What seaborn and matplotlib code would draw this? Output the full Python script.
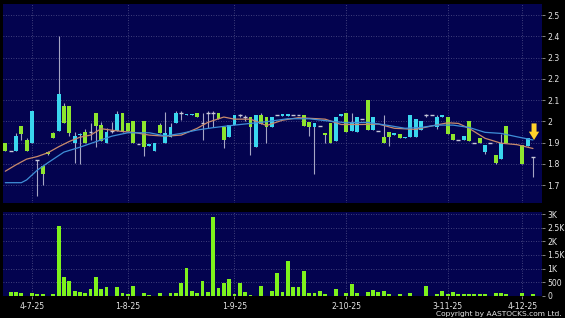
import numpy as np
import matplotlib
matplotlib.use("Agg")
import matplotlib.pyplot as plt
import seaborn as sns

nan = np.nan

# ---------------- data ----------------
opens = [1.90, 1.86, 1.86, 1.98, 1.91, 1.90, 1.82, 1.79, 1.856, 1.944,
         1.956, 2.073, 2.072, 1.90, 1.936, 1.95, 1.95, 2.04, 1.983, 1.90,
         1.955, 1.956, 2.04, 1.994, 2.00, 1.895, 2.00, 1.886, 1.86, 1.982,
         1.90, 1.925, 1.99, 2.037, 2.03, 2.03, 2.04, 1.993, 2.04, 2.04,
         2.04, 1.972, 1.924, 1.982, 2.029, 2.02, 2.021, 1.88, 2.029, 2.021,
         1.971, 2.029, 2.026, 2.026, 2.029, 2.029, 2.029, 1.998, 1.971, 1.98,
         1.947, 1.994, 1.908, 2.026, 2.04, 1.952, 1.948, 2.01, 2.10, 1.96,
         1.956, 1.928, 1.948, 1.937, 1.94, 1.922, 1.925, 1.925, 1.96, 2.03,
         2.03, 1.975, 2.022, 2.022, 1.94, 1.91, 1.91, 2.00, 1.897, 1.92,
         1.855, 1.897, 1.84, 1.822, 1.98, nan, nan, 1.89, 1.884, 1.83]
highs = [1.90, 1.86, 1.947, 1.98, 1.92, 2.05, 1.82, 1.79, 1.86, 1.95,
         2.40, 2.084, 2.072, 1.95, 1.945, 1.963, 1.99, 2.04, 1.995, 1.97,
         1.998, 2.047, 2.04, 1.994, 2.00, 1.895, 2.00, 1.892, 1.90, 1.99,
         2.042, 1.99, 2.05, 2.05, 2.036, 2.036, 2.04, 2.037, 2.05, 2.05,
         2.04, 1.972, 1.982, 2.03, 2.035, 2.03, 2.021, 2.029, 2.04, 2.021,
         2.021, 2.029, 2.032, 2.032, 2.029, 2.029, 2.029, 1.998, 1.99, 1.98,
         1.947, 1.994, 2.021, 2.032, 2.04, 2.04, 2.022, 2.01, 2.10, 2.022,
         1.956, 2.03, 1.948, 1.943, 1.94, 1.928, 2.03, 2.01, 2.00, 2.035,
         2.03, 2.03, 2.028, 2.022, 1.94, 1.91, 1.93, 2.00, 1.897, 1.92,
         1.89, 1.897, 1.84, 1.94, 1.98, nan, nan, 1.89, 1.92, 1.83]
lows = [1.86, 1.86, 1.86, 1.913, 1.86, 1.90, 1.65, 1.70, 1.84, 1.92,
        1.956, 1.994, 1.93, 1.805, 1.80, 1.90, 1.91, 1.88, 1.905, 1.90,
        1.944, 1.956, 1.95, 1.952, 1.90, 1.895, 1.835, 1.886, 1.86, 1.944,
        1.90, 1.925, 1.99, 2.006, 2.03, 2.03, 2.019, 1.91, 1.97, 1.975,
        2.009, 1.872, 1.924, 1.982, 2.02, 2.00, 1.841, 1.88, 1.986, 1.90,
        1.971, 2.029, 2.026, 2.026, 2.029, 2.029, 1.98, 1.93, 1.752, 1.98,
        1.90, 1.90, 1.908, 2.026, 1.95, 1.952, 1.948, 2.01, 1.96, 1.96,
        1.956, 1.90, 1.884, 1.937, 1.92, 1.922, 1.925, 1.925, 1.96, 2.02,
        2.03, 1.965, 2.022, 1.94, 1.91, 1.91, 1.91, 1.906, 1.897, 1.90,
        1.847, 1.897, 1.80, 1.822, 1.897, nan, nan, 1.80, 1.884, 1.74]
closes = [1.86, 1.86, 1.93, 1.94, 1.86, 2.05, 1.82, 1.75, 1.845, 1.92,
          2.13, 1.994, 1.945, 1.93, 1.94, 1.90, 1.95, 1.978, 1.905, 1.95,
          1.955, 2.034, 1.95, 1.952, 1.90, 1.895, 1.88, 1.892, 1.90, 1.944,
          1.947, 1.972, 2.04, 2.037, 2.036, 2.036, 2.019, 1.993, 2.04, 2.04,
          2.009, 1.912, 1.982, 2.03, 2.029, 2.02, 1.971, 2.029, 1.986, 1.971,
          2.021, 2.029, 2.032, 2.032, 2.029, 2.029, 1.98, 1.971, 1.99, 1.98,
          1.937, 1.90, 2.021, 2.032, 1.95, 1.994, 2.022, 2.01, 1.96, 2.022,
          1.956, 1.90, 1.928, 1.943, 1.92, 1.928, 2.03, 2.01, 2.00, 2.03,
          2.03, 2.022, 2.028, 1.94, 1.91, 1.91, 1.93, 1.906, 1.897, 1.90,
          1.89, 1.897, 1.806, 1.897, 1.897, nan, nan, 1.80, 1.92, 1.83]
volumes = [0, 123, 147, 98, 0, 98, 49, 49, 0, 61,
           2552, 687, 552, 184, 147, 110, 233, 700, 233, 331,
           0, 331, 86, 49, 344, 0, 86, 37, 0, 86,
           0, 110, 86, 479, 1031, 184, 86, 540, 123, 2908,
           282, 466, 601, 49, 466, 123, 37, 0, 368, 0,
           172, 847, 123, 1276, 319, 319, 908, 98, 98, 172,
           74, 0, 233, 0, 98, 417, 98, 0, 135, 209,
           123, 184, 74, 0, 61, 0, 98, 0, 0, 356,
           0, 74, 160, 61, 123, 49, 49, 49, 49, 49,
           74, 0, 98, 110, 61, 0, 0, 86, 0, 61]

ma_short_idx = [0, 2, 4, 6, 8, 10, 12, 14, 16, 18, 20, 22, 24, 27, 30, 33, 36, 38,
                41, 43, 46, 49, 52, 55, 60, 63, 67, 70, 73, 77, 80, 83, 85, 87,
                90, 93, 96, 99]
ma_short_val = [1.765, 1.795, 1.822, 1.834, 1.852, 1.88, 1.905, 1.925, 1.935, 1.965,
                1.958, 1.952, 1.948, 1.935, 1.930, 1.935, 1.967, 1.995, 2.02, 2.01,
                2.01, 1.98, 2.005, 2.017, 2.01, 1.985, 1.985, 1.987, 1.967, 1.962,
                1.978, 1.993, 1.99, 1.967, 1.92, 1.897, 1.89, 1.872]
ma_long_idx = [0, 3, 4, 6, 8, 11, 14, 17, 20, 23, 27, 30, 33, 36, 39, 43, 46, 49,
               53, 57, 60, 64, 68, 72, 75, 78, 81, 84, 87, 90, 93, 96, 99]
ma_long_val = [1.711, 1.711, 1.724, 1.77, 1.805, 1.855, 1.878, 1.904, 1.93, 1.946,
               1.946, 1.931, 1.943, 1.959, 1.97, 1.982, 1.99, 1.998, 2.012, 2.012,
               2.003, 1.993, 1.995, 1.98, 1.967, 1.971, 1.982, 1.982, 1.971, 1.948,
               1.943, 1.927, 1.912]

date_tick_idx = [5, 23, 43, 64, 83, 97]
date_labels = ["4-7-25", "1-8-25", "1-9-25", "2-10-25", "3-11-25", "4-12-25"]
price_ticks = [1.7, 1.8, 1.9, 2.0, 2.1, 2.2, 2.3, 2.4, 2.5]
price_tick_labels = ["1.7", "1.8", "1.9", "2", "2.1", "2.2", "2.3", "2.4", "2.5"]
vol_ticks = [0, 500, 1000, 1500, 2000, 2500, 3000]
vol_tick_labels = ["0", "500", "1K", "1.5K", "2K", "2.5K", "3K"]
last_index = 99

# ---------------- style ----------------
sns.set_theme(style="dark")
plt.rcParams["font.family"] = ["DejaVu Sans"]

PANEL = "#03034f"
GRID = "#54548a"
CYAN = "#3ad6ee"
GREEN = "#8ee62e"
VOLG = "#7ef21c"
WICK = "#a6a6c4"
TXT = "#e6e6e6"

W, H = 565, 318
fig = plt.figure(figsize=(W / 100, H / 100), dpi=100, facecolor="black")
left, right = 3 / W, 541.5 / W
ax = fig.add_axes([left, 1 - 203.3 / H, right - left, (203.3 - 4) / H])
axv = fig.add_axes([left, 1 - 295.7 / H, right - left, (295.7 - 212) / H])

for a in (ax, axv):
    a.set_facecolor(PANEL)
    for s in a.spines.values():
        s.set_visible(False)

x = np.arange(len(opens))
o = np.array(opens); h = np.array(highs); l = np.array(lows); c = np.array(closes)
valid = ~np.isnan(o)

# wicks
wm = valid & (h > l)
ax.vlines(x[wm], l[wm], h[wm], color=WICK, lw=0.8, zorder=2)
# bodies
up = valid & (c > o)
dn = valid & (c < o)
eq = valid & (c == o)
ax.bar(x[up], (c - o)[up], bottom=o[up], width=0.72, color=CYAN, lw=0, zorder=3)
ax.bar(x[dn], (o - c)[dn], bottom=c[dn], width=0.72, color=GREEN, lw=0, zorder=3)
ax.hlines(c[eq], x[eq] - 0.36, x[eq] + 0.36, color="#c8c8d8", lw=1.0, zorder=3)

# moving averages
sns.lineplot(x=ma_short_idx, y=ma_short_val, ax=ax, color="#c98a6c", lw=0.9, zorder=4)
sns.lineplot(x=ma_long_idx, y=ma_long_val, ax=ax, color="#3f8fd8", lw=0.9, zorder=4)

# last-price marker arrow
ax.annotate("", xy=(last_index + 0.2, 1.912), xytext=(last_index + 0.2, 1.99),
            arrowprops=dict(arrowstyle="simple,head_width=0.62,head_length=0.5,tail_width=0.3",
                            color="#ffd22a", lw=0, shrinkA=0, shrinkB=0), zorder=6)

# volume
sns.barplot(x=x, y=volumes, ax=axv, native_scale=True, width=0.72, color=VOLG,
            saturation=1, linewidth=0, zorder=3)

# axes setup
xlim = (-0.43, 100.6)
for a in (ax, axv):
    a.set_xlim(*xlim)
    a.set_xticks(date_tick_idx)
    a.yaxis.tick_right()
    a.grid(True, color=GRID, lw=0.6, ls=(0, (1, 2)))
    a.set_xlabel(""); a.set_ylabel("")
    a.tick_params(axis="y", which="both", right=True, left=False, length=2.5, width=0.6,
                  color="#9a9a9a", labelsize=5.6, labelcolor=TXT, pad=1.5)

ax.set_ylim(1.614, 2.552)
ax.set_yticks(price_ticks)
ax.set_yticklabels(price_tick_labels)
ax.tick_params(axis="x", bottom=False, labelbottom=False)

axv.set_ylim(0, 3080)
axv.set_yticks(vol_ticks)
axv.set_yticklabels(vol_tick_labels)
axv.set_xticklabels(date_labels)
axv.tick_params(axis="x", bottom=True, length=2, width=0.6, color="#9a9a9a",
                labelsize=5.6, labelcolor=TXT, pad=2.5)

fig.text(562 / W, 1 - 317 / H, "Copyright by AASTOCKS.com Ltd.", ha="right", va="bottom",
         fontsize=5.4, color=TXT)

fig.savefig("out.png", dpi=100, facecolor="black")
